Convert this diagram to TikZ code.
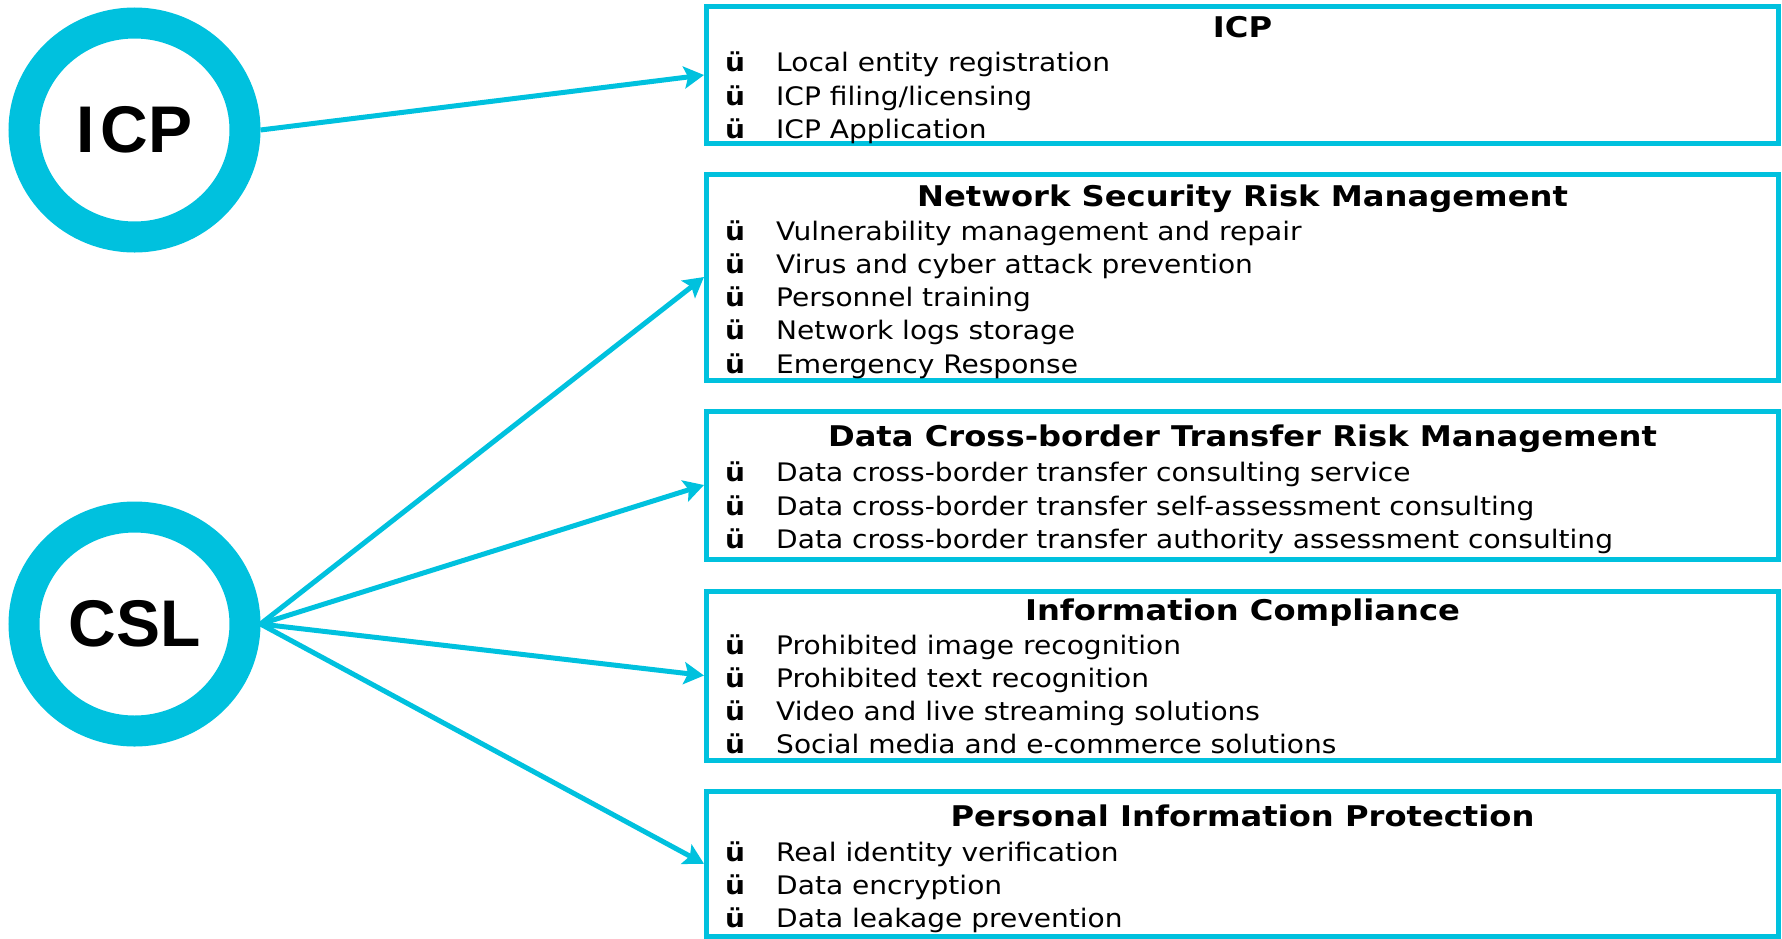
\documentclass[tikz,border=0pt]{standalone}
\usepackage{fontspec}
\setmainfont{DejaVu Sans}[FakeStretch=1.1]
\newfontfamily\titlefont{DejaVu Sans}[FakeStretch=1.13]
\newfontfamily\lawfont{Liberation Sans}
\usetikzlibrary{arrows.meta,shapes.geometric}
\definecolor{cslblue}{RGB}{0,193,222}

\begin{document}
\begin{tikzpicture}[x=1pt, y=-1pt,
  law/.style = {draw=cslblue, line width=31pt, ellipse, minimum width=221pt, minimum height=214pt, inner sep=0pt, font=\lawfont\bfseries\fontsize{66}{66}\selectfont},
  area/.style = {draw=cslblue, line width=5pt, minimum width=1072pt, inner sep=0pt},
  title/.style = {anchor=base, inner sep=0pt, font=\titlefont\bfseries\fontsize{28.5}{28.5}\selectfont},
  tick/.style = {anchor=base west, inner sep=0pt, font=\bfseries\fontsize{25.5}{25.5}\selectfont},
  item/.style = {anchor=base west, inner sep=0pt, font=\fontsize{25.5}{25.5}\selectfont},
  link/.style = {draw=cslblue, line width=5pt, -{Stealth[length=20pt, width=22pt, inset=4pt]}}]
	\useasboundingbox (0,0) rectangle (1782,938);
	% laws
	\node[law] (icp) at (134.5, 130){I\kern6pt CP};
	\node[law] (csl) at (134.5, 624){CSL};
	% ICP
	\node[area, minimum height=137pt] (icpbox) at (1242.5, 75){};
	\node[title] (icptitle) at (1242.5, 37){ICP};
	\foreach \txt [count=\i from 0] in {Local entity registration, ICP filing/licensing, ICP Application}{
		\node[tick] (icp-c\i) at (725, 71.7+33.3*\i){ü};
		\node[item] (icp-i\i) at (776, 71.7+33.3*\i){\txt};
	}
	% network security
	\node[area, minimum height=206pt] (netbox) at (1242.5, 277){};
	\node[title] (nettitle) at (1242.5, 206){Network Security Risk Management};
	\foreach \txt [count=\i from 0] in {Vulnerability management and repair, Virus and cyber attack prevention, Personnel training, Network logs storage, Emergency Response}{
		\node[tick] (net-c\i) at (725, 240+33.3*\i){ü};
		\node[item] (net-i\i) at (776, 240+33.3*\i){\txt};
	}
	% cross-border data
	\node[area, minimum height=148pt] (databox) at (1242.5, 485){};
	\node[title] (datatitle) at (1242.5, 446.7){Data Cross-border Transfer Risk Management};
	\foreach \txt [count=\i from 0] in {Data cross-border transfer consulting service, Data cross-border transfer self-assessment consulting, Data cross-border transfer authority assessment consulting}{
		\node[tick] (data-c\i) at (725, 481.7+33.3*\i){ü};
		\node[item] (data-i\i) at (776, 481.7+33.3*\i){\txt};
	}
	% information compliance
	\node[area, minimum height=169pt] (infobox) at (1242.5, 675.5){};
	\node[title] (infotitle) at (1242.5, 620.7){Information Compliance};
	\foreach \txt [count=\i from 0] in {Prohibited image recognition, Prohibited text recognition, Video and live streaming solutions, Social media and e-commerce solutions}{
		\node[tick] (info-c\i) at (725, 654+33.3*\i){ü};
		\node[item] (info-i\i) at (776, 654+33.3*\i){\txt};
	}
	% personal information
	\node[area, minimum height=144.5pt] (pibox) at (1242.5, 863.75){};
	\node[title] (pititle) at (1242.5, 826.7){Personal Information Protection};
	\foreach \txt [count=\i from 0] in {Real identity verification, Data encryption, Data leakage prevention}{
		\node[tick] (pi-c\i) at (725, 861+33.3*\i){ü};
		\node[item] (pi-i\i) at (776, 861+33.3*\i){\txt};
	}
	% links
	\draw[link] (icp.east) -- (icpbox.west);
	\foreach \b in {netbox, databox, infobox, pibox}
		\draw[link] (csl.east) -- (\b.west);
\end{tikzpicture}
\end{document}
